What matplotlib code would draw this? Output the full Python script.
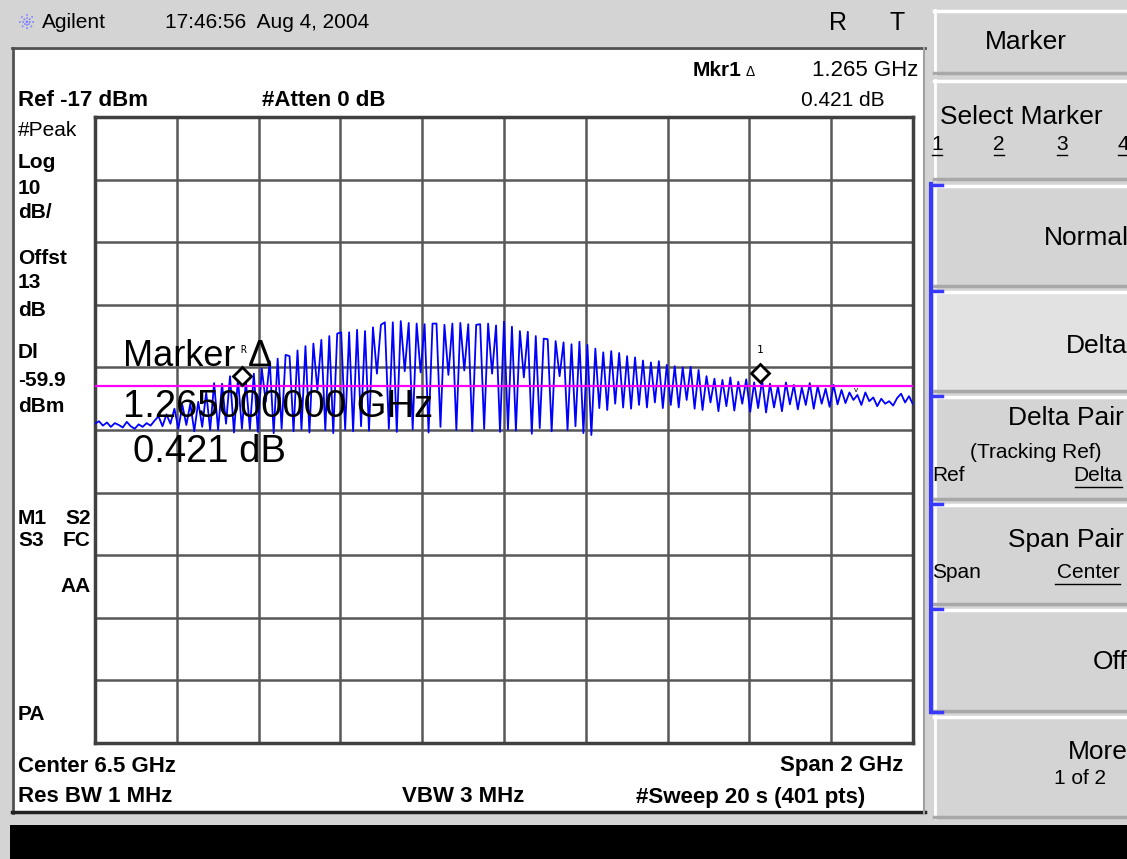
import matplotlib.pyplot as plt
import numpy as np
from matplotlib.patches import Rectangle

plt.rcParams["font.family"] = ["Liberation Sans", "DejaVu Sans"]

W, H = 1127, 859

# analyzer settings shown on screen
ref_level = -17
db_per_div = 10
center_ghz = 6.5
span_ghz = 2.0
display_line = -59.9

# markers
marker_r_ghz = 5.860
marker_1_ghz = 7.125
marker_r_dbm = -58.3
marker_delta_db = 0.421

# trace, dBm, left to right across the span
trace_dbm = [
    -66.0, -65.6, -66.3, -65.8, -66.5, -65.9, -66.2, -66.6, -65.7, -66.4,
    -66.8, -66.1, -66.5, -65.9, -66.3, -65.5,
    -64.8, -66.4, -64.5, -66.0, -63.6,
    -66.8, -63.0, -66.2, -62.8, -67.2, -62.5, -66.5, -61.0, -67.0, -59.5,
    -67.0, -59.6, -66.0, -58.4, -67.4, -58.8, -66.8, -59.2,
    -66.9, -58.0, -67.3, -57.2, -62.5, -56.0,
    -67.5, -55.6, -66.8, -55.0, -55.2, -67.2, -54.3,
    -66.9, -53.6, -67.4, -53.2, -60.6, -52.6, -67.0, -52.0,
    -67.5, -51.6, -51.4, -66.9, -51.4, -67.2, -51.0, -66.4, -51.2,
    -67.1, -50.6, -58.0, -50.2, -49.8, -66.8, -49.8, -67.3, -49.6, -57.6,
    -49.9, -66.9, -50.0, -57.8, -50.1, -67.4, -50.0, -50.0, -66.5, -50.2,
    -58.2, -50.0, -67.0, -49.9, -57.5, -50.1,
    -67.2, -50.2, -50.1, -66.8, -50.0, -58.0, -50.3, -67.3, -49.7, -66.9,
    -50.5, -67.1, -51.2, -58.6, -51.3, -67.6,
    -52.0, -66.7, -52.4, -52.5, -67.2, -52.8, -58.4, -53.0, -67.0, -53.3,
    -66.4, -52.9, -67.5, -53.4,
    -67.8, -54.0, -63.5, -54.6, -63.8, -54.4, -62.8, -54.7, -63.4, -55.2,
    -63.6, -55.4, -63.0, -55.9, -63.4, -56.2, -62.6, -56.0, -63.5, -56.6,
    -63.0, -56.8, -63.4, -57.0, -62.2, -56.9, -63.6, -57.4,
    -63.8, -58.4, -62.6, -58.8, -64.0, -59.0, -63.2, -58.6, -63.9, -59.3,
    -62.8, -58.9, -64.1, -59.4, -63.5, -59.0,
    -64.2, -59.6, -63.4, -60.0, -64.0, -59.4, -62.9, -59.8, -63.7, -60.2,
    -63.0, -59.5,
    -63.6, -60.0, -62.8, -60.4, -63.3, -59.8, -62.9,
    -60.6, -62.7, -61.0, -62.2, -61.4, -63.0, -61.0, -62.4,
    -61.8, -63.2, -62.0, -62.8, -62.4, -63.1, -61.9, -61.2, -62.6, -61.6,
    -62.9,
]

left_labels = ["#Peak", "Log", "10", "dB/", "Offst", "13", "dB",
               "Dl", "-59.9", "dBm", "M1", "S3", "PA"]
left_label_y = [130, 162, 188, 212, 259, 283, 310, 352, 381, 406,
                518, 541, 714]
right_labels = ["S2", "FC", "AA"]
right_label_y = [518, 541, 587]

softkeys = ["Marker", "Select Marker", "Normal", "Delta", "Delta Pair",
            "Span Pair", "Off", "More"]
softkey_top = [10, 80, 185, 291, 396, 504, 609, 716]
softkey_bottom = [74, 180, 287, 392, 500, 605, 712, 818]

fig = plt.figure(figsize=(W / 100, H / 100), dpi=100, facecolor="#d4d4d4")


def put(x, y, s, size=16, weight="normal", ha="left", va="center", **kw):
    fig.text(x / W, 1 - y / H, s, fontsize=size, fontweight=weight,
             ha=ha, va=va, **kw)


# background: frame, screen panel, softkey panel
bg = fig.add_axes([0, 0, 1, 1], zorder=0)
bg.set_xlim(0, W)
bg.set_ylim(H, 0)
bg.axis("off")
bg.add_patch(Rectangle((12, 47), 913, 766, facecolor="white",
                       edgecolor="none"))
bg.plot([12, 925], [48, 48], color="#505050", lw=2)
bg.plot([13, 13], [48, 813], color="#505050", lw=2)
bg.plot([12, 925], [812, 812], color="#202020", lw=2.5)
bg.plot([924, 924], [48, 813], color="#a0a0a0", lw=1.5)
bg.add_patch(Rectangle((10, 825), W - 10, H - 825, facecolor="black",
                       edgecolor="none"))

for label, y0, y1 in zip(softkeys, softkey_top, softkey_bottom):
    face = "#e2e2e2" if label == "Delta" else "#d4d4d4"
    bg.add_patch(Rectangle((934, y0), W - 934, y1 - y0, facecolor=face,
                           edgecolor="none"))
    bg.plot([934, W], [y0 + 1, y0 + 1], color="white", lw=2.5)
    bg.plot([935, 935], [y0, y1], color="white", lw=2)
    bg.plot([934, W], [y1 - 1, y1 - 1], color="#a8a8a8", lw=2.5)

# blue bracket for the marker mode group
bg.plot([931, 931], [184, 712], color="#3838ff", lw=3)
for yb in softkey_top[2:7] + [712]:
    bg.plot([931, 942], [yb, yb], color="#3838ff", lw=2.5)

# agilent sparkle
for ang in np.linspace(0, np.pi, 4, endpoint=False):
    dx, dy = 8 * np.cos(ang), 8 * np.sin(ang)
    bg.plot([27 - dx, 27 + dx], [22 - dy, 22 + dy], color="#8080ff",
            lw=1.2, ls=(0, (1, 1)))

# graticule with the trace
freqs = np.linspace(center_ghz - span_ghz / 2, center_ghz + span_ghz / 2,
                    len(trace_dbm))
ax = fig.add_axes([95 / W, 1 - 743 / H, 818 / W, 626 / H], zorder=1)
ax.set_facecolor("white")
ax.set_xlim(center_ghz - span_ghz / 2, center_ghz + span_ghz / 2)
ax.set_ylim(ref_level - 10 * db_per_div, ref_level)
ax.set_xticks(np.linspace(center_ghz - span_ghz / 2,
                          center_ghz + span_ghz / 2, 11))
ax.set_yticks(np.arange(ref_level - 10 * db_per_div, ref_level + 1,
                        db_per_div))
ax.tick_params(length=0, labelbottom=False, labelleft=False)
ax.grid(True, color="#585858", lw=1.8)
for sp in ax.spines.values():
    sp.set_color("#404040")
    sp.set_linewidth(2.5)

ax.plot(freqs, trace_dbm, color="#0000ff", lw=1.3, zorder=3)
ax.axhline(display_line, color="#ff00ff", lw=1.6, zorder=4)

marker_1_dbm = marker_r_dbm + marker_delta_db
ax.plot([marker_r_ghz, marker_1_ghz], [marker_r_dbm, marker_1_dbm],
        ls="none", marker="D", ms=9, mfc="white", mec="black", mew=2,
        zorder=6)
ax.annotate("R", (marker_r_ghz, marker_r_dbm), xytext=(1, 16),
            textcoords="offset points", ha="center", fontsize=7,
            family="DejaVu Sans Mono", zorder=7)
ax.annotate("1", (marker_1_ghz, marker_1_dbm), xytext=(0, 14),
            textcoords="offset points", ha="center", fontsize=8,
            family="DejaVu Sans Mono", zorder=7)
ax.annotate("v", (7.36, -60.7), ha="center", va="center", fontsize=6,
            zorder=7)

# header
put(42, 23, "Agilent", size=15)
put(165, 23, "17:46:56  Aug 4, 2004", size=15)
put(838, 23, "R", size=18, ha="center")
put(897, 23, "T", size=18, ha="center")

# screen annotations
put(693, 71, "Mkr1", weight="bold", size=15)
put(750, 72, "Δ", size=10, ha="center")
put(918, 71, f"{marker_1_ghz - marker_r_ghz:.3f} GHz", size=16, ha="right")
put(18, 100, f"Ref {ref_level} dBm", weight="bold")
put(262, 100, "#Atten 0 dB", weight="bold")
put(885, 100, f"{marker_delta_db:.3f} dB", size=15, ha="right")
for label, y in zip(left_labels, left_label_y):
    put(18, y, label, weight="normal" if label == "#Peak" else "bold",
        size=15)
for label, y in zip(right_labels, right_label_y):
    put(91, y, label, weight="bold", size=15, ha="right")
put(18, 766, f"Center {center_ghz} GHz", weight="bold")
put(903, 766, f"Span {span_ghz:.0f} GHz", weight="bold", ha="right")
put(18, 797, "Res BW 1 MHz", weight="bold")
put(402, 797, "VBW 3 MHz", weight="bold")
put(636, 797, "#Sweep 20 s (401 pts)", weight="bold")

# big marker readout over the graticule
put(123, 356, "Marker", size=26)
put(248, 356, "Δ", size=26)
put(123, 407, f"{marker_1_ghz - marker_r_ghz:.9f} GHz", size=27.5)
put(133, 452, f"{marker_delta_db:.3f} dB", size=27.5)

# softkey labels
put(1026, 42, "Marker", size=19, ha="center")
put(940, 117, "Select Marker", size=19)
for k, xk in zip(["1", "2", "3", "4"], [937, 999, 1062, 1123]):
    put(xk, 145, k, size=15, ha="center")
    bg.plot([xk - 5, xk + 5], [155, 155], color="black", lw=1)
put(1129, 238, "Normal", size=19, ha="right")
put(1128, 346, "Delta", size=19, ha="right")
put(1124, 418, "Delta Pair", size=19, ha="right")
put(1036, 452, "(Tracking Ref)", size=15, ha="center")
put(932, 476, "Ref", size=15)
put(1122, 476, "Delta", size=15, ha="right")
bg.plot([1075, 1122], [487, 487], color="black", lw=1)
put(1124, 540, "Span Pair", size=19, ha="right")
put(932, 573, "Span", size=15)
put(1120, 573, "Center", size=15, ha="right")
bg.plot([1055, 1120], [584, 584], color="black", lw=1)
put(1128, 662, "Off", size=19, ha="right")
put(1128, 752, "More", size=19, ha="right")
put(1080, 778, "1 of 2", size=15, ha="center")

fig.savefig("out.png", dpi=100, facecolor=fig.get_facecolor())
